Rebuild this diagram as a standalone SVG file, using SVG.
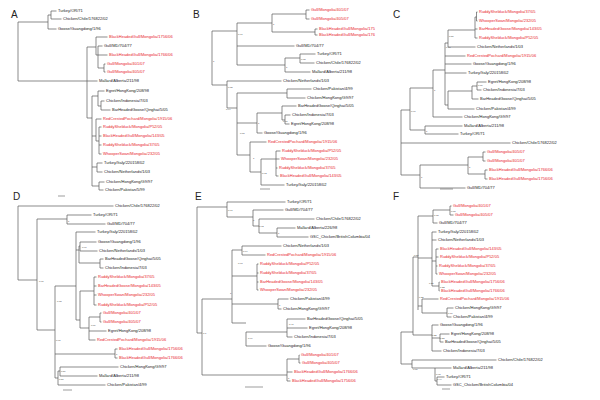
<svg xmlns="http://www.w3.org/2000/svg" width="600" height="400" viewBox="0 0 600 400">
<style>
.br{fill:none;stroke:#5a5a5a;stroke-width:0.7}
.sb{fill:none;stroke:#5a5a5a;stroke-width:0.6}
text{font-family:"Liberation Sans",Arial,sans-serif}
.t{font-size:4px;fill:#222}
.r{font-size:4px;fill:#e8242b}
.bs{font-size:2.4px;fill:#444}
.pl{font-size:10px;fill:#222}
</style>
<rect width="600" height="400" fill="#fff"/>

<!-- Panel A -->
<g id="panelA">
<text class="pl" x="11" y="18">A</text>
<g id="A-connectors"><path class="br" d="M18 22V81M18 22H48M48 15V29M48 29H56.5M48 15H51M51 11V19M51 11H56.5M51 19H61.5
M18 81H87M87 47V118M87 47H96M87 81H97.5M96 37V55M96 37H107.5M96 55H98M98 46V68M98 46H102.5M98 55H107.5M98 68H104M104 64V72M104 64H105.5M104 72H105.5
M87 118H92M92 96V186M92 96H98M98 91V106M98 91H104.5M98 106H101M101 101V110M101 101H104.5M101 110H110.5
M92 136H96M96 119V141M96 119H101.5M96 141H99M99 127V154M99 127H101.5M99 136H101.5M99 145H101.5M99 154H101.5
M92 167H97M97 163V172M97 163H102.5M97 172H102.5M92 186H99M99 182V190M99 182H104.5M99 190H103.5"/>
<path class="sb" d="M58 196H65"/></g>
<g id="A-nodes">
<text class="t" x="58" y="12.4">Turkey/OR/71</text>
<text class="t" x="63" y="20.4">Chicken/Chile/176822/02</text>
<text class="t" x="58" y="30.4">Goose/Guangdong/1/96</text>
<text class="r" x="109" y="38.4">BlackHeadedGull/Mongolia/1756/06</text>
<text class="t" x="104" y="47.4">Gull/MD/704/77</text>
<text class="r" x="109" y="56.4">BlackHeadedGull/Mongolia/1766/06</text>
<text class="r" x="107" y="65.4">Gull/Mongolia/401/07</text>
<text class="r" x="107" y="73.4">Gull/Mongolia/405/07</text>
<text class="t" x="99" y="82.4">Mallard/Alberta/211/98</text>
<text class="t" x="106" y="92.4">Egret/HongKong/208/98</text>
<text class="t" x="106" y="102.4">Chicken/Indonesia/7/03</text>
<text class="t" x="112" y="111.4">BarHeadedGoose/Qinghai/5/05</text>
<text class="r" x="103" y="120.4">RedCrestedPochard/Mongolia/1915/06</text>
<text class="r" x="103" y="128.4">RuddyShelduck/Mongolia/P52/05</text>
<text class="r" x="103" y="137.4">BlackHeadedGull/Mongolia/143/05</text>
<text class="r" x="103" y="146.4">RuddyShelduck/Mongolia/37/05</text>
<text class="r" x="103" y="155.4">WhooperSwan/Mongolia/232/05</text>
<text class="t" x="104" y="164.4">Turkey/Italy/220158/02</text>
<text class="t" x="104" y="173.4">Chicken/Netherlands/1/03</text>
<text class="t" x="106" y="183.4">Chicken/HongKong/G9/97</text>
<text class="t" x="105" y="191.4">Chicken/Pakistan/5/99</text>
</g>
</g>

<!-- Panel B -->
<g id="panelB">
<text class="pl" x="193" y="18">B</text>
<g id="B-connectors"><path class="br" d="M212 31V85M212 31H237M237 23V65M237 23H272M237 46H294.5M237 65H285
M272 14V32M272 14H306M272 32H315M306 10V19M306 10H309.5M306 19H309.5M315 29V35M315 29H317.5M315 35H317.5
M285 58V72M285 58H300M285 72H310.5M300 54V63M300 54H315.5M300 63H314.5
M212 85H227M227 81V108M227 81H281.5M227 108H237M237 93V155M237 93H287M237 123H257M237 155H250
M287 89V98M287 89H311.5M287 98H305.5
M257 113V133M257 113H282M257 133H262.5M282 106V120M282 106H296.5M282 120H285M285 115V124M285 115H290.5M285 124H289.5
M250 142V172M250 142H266.5M250 172H261M261 159V185M261 159H276M261 185H284.5M276 151V176M276 151H280.5M276 159H279.5M276 168H277.5M276 176H278.5"/>
<path class="sb" d="M260 189H270"/></g>
<g id="B-nodes">
<text class="r" x="311" y="11.4">Gull/Mongolia/401/07</text>
<text class="r" x="311" y="20.4">Gull/Mongolia/405/07</text>
<text class="r" x="319" y="30.4">BlackHeadedGull/Mongolia/175</text>
<text class="r" x="319" y="36.4">BlackHeadedGull/Mongolia/176</text>
<text class="t" x="296" y="47.4">Gull/MD/704/77</text>
<text class="t" x="317" y="55.4">Turkey/OR/71</text>
<text class="t" x="316" y="64.4">Chicken/Chile/176822/02</text>
<text class="t" x="312" y="73.4">Mallard/Alberta/211/98</text>
<text class="t" x="283" y="82.4">Chicken/Netherlands/1/03</text>
<text class="t" x="313" y="90.4">Chicken/Pakistan/4/99</text>
<text class="t" x="307" y="99.4">Chicken/HongKong/G9/97</text>
<text class="t" x="298" y="107.4">BarHeadedGoose/Qinghai/5/05</text>
<text class="t" x="292" y="116.4">Chicken/Indonesia/7/03</text>
<text class="t" x="291" y="125.4">Egret/HongKong/208/98</text>
<text class="t" x="264" y="134.4">Goose/Guangdong/1/96</text>
<text class="r" x="268" y="143.4">RedCrestedPochard/Mongolia/1915/06</text>
<text class="r" x="282" y="152.4">RuddyShelduck/Mongolia/P52/05</text>
<text class="r" x="281" y="160.4">WhooperSwan/Mongolia/232/05</text>
<text class="r" x="279" y="169.4">RuddyShelduck/Mongolia/37/05</text>
<text class="r" x="280" y="177.4">BlackHeadedGull/Mongolia/143/05</text>
<text class="t" x="286" y="186.4">Turkey/Italy/220158/02</text>
</g>
<g id="B-support">
<text class="bs" x="238" y="35">0.97</text><text class="bs" x="213" y="62">1</text><text class="bs" x="273" y="25">1</text>
<text class="bs" x="301" y="60">0.75</text><text class="bs" x="286" y="68">1</text><text class="bs" x="228" y="88">0.85</text>
<text class="bs" x="226" y="110">0.94</text><text class="bs" x="240" y="134">0.88</text><text class="bs" x="258" y="124">1</text>
<text class="bs" x="283" y="122">0.61</text><text class="bs" x="253" y="159">1</text><text class="bs" x="262" y="174">0.93</text>
</g>
</g>

<!-- Panel C -->
<g id="panelC">
<text class="pl" x="393" y="18">C</text>
<g id="C-connectors"><path class="br" d="M401 110V175M401 110H410M401 143H510.5M401 175H420M410 88V130M410 88H433M410 130H425
M425 126V134M425 126H462.5M425 134H458.5M433 70V117M433 70H445M433 117H462.5
M445 43V105M445 43H448M445 56H465.5M445 64H471.5M445 73H466.5M445 105H448
M448 30V47M448 30H475M448 47H475.5M475 17V38M475 17H476.5M476.5 12V21M476.5 12H477.5M476.5 21H477.5M475 29H477.5M475 38H477.5
M448 91V109M448 91H472M448 109H474.5M472 86V99M472 86H477M472 99H478.5M477 82V90M477 82H486.5M477 90H481.5
M420 165V188M420 165H468M420 188H465.5M468 157V174M468 157H483M468 174H485M483 152V161M483 152H485.5M483 161H485.5M485 170V179M485 170H487.5M485 179H487.5"/>
<path class="sb" d="M440 189H453"/></g>
<g id="C-nodes">
<text class="r" x="479" y="13.4">RuddyShelduck/Mongolia/37/05</text>
<text class="r" x="479" y="22.4">WhooperSwan/Mongolia/232/05</text>
<text class="r" x="479" y="30.4">BarHeadedGoose/Mongolia/143/05</text>
<text class="r" x="479" y="39.4">RuddyShelduck/Mongolia/P52/05</text>
<text class="t" x="477" y="48.4">Chicken/Netherlands/1/03</text>
<text class="r" x="467" y="57.4">RedCrestedPochard/Mongolia/1915/06</text>
<text class="t" x="473" y="65.4">Goose/Guangdong/1/96</text>
<text class="t" x="468" y="74.4">Turkey/Italy/220158/02</text>
<text class="t" x="488" y="83.4">Egret/HongKong/208/98</text>
<text class="t" x="483" y="91.4">Chicken/Indonesia/7/03</text>
<text class="t" x="480" y="100.4">BarHeadedGoose/Qinghai/5/05</text>
<text class="t" x="476" y="110.4">Chicken/Pakistan/4/99</text>
<text class="t" x="464" y="118.4">Chicken/HongKong/G9/97</text>
<text class="t" x="464" y="127.4">Mallard/Alberta/211/98</text>
<text class="t" x="460" y="135.4">Turkey/OR/71</text>
<text class="t" x="512" y="144.4">Chicken/Chile/176822/02</text>
<text class="r" x="487" y="153.4">Gull/Mongolia/405/07</text>
<text class="r" x="487" y="162.4">Gull/Mongolia/401/07</text>
<text class="r" x="489" y="171.4">BlackHeadedGull/Mongolia/1766/06</text>
<text class="r" x="489" y="180.4">BlackHeadedGull/Mongolia/1756/06</text>
<text class="t" x="467" y="189.4">Gull/MD/704/77</text>
</g>
<g id="C-support">
<text class="bs" x="434" y="91">1</text><text class="bs" x="411" y="112">0.96</text><text class="bs" x="426" y="132">1</text>
<text class="bs" x="421" y="178">1</text><text class="bs" x="469" y="168">1</text><text class="bs" x="449" y="37">0.51</text>
<text class="bs" x="446" y="48">0.98</text><text class="bs" x="478" y="86">0.86</text>
</g>
</g>

<!-- Panel D -->
<g id="panelD">
<text class="pl" x="13" y="200">D</text>
<g id="D-connectors"><path class="br" d="M18 206V280M18 206H113.5M18 280H37M37 219V330M37 219H67M37 330H55M67 215V224M67 215H91.5M67 224H105.5
M55 286V378M55 286H76M55 354H115M55 378H58M76 232V320M76 232H95.5M76 250H79M76 320H80
M79 246V263M79 246H80M80 242V251M80 242H96.5M80 251H97.5M79 263H100M100 259V268M100 259H103.5M100 268H103.5
M80 291V328M80 291H94M80 328H89M94 277V305M94 277H96.5M94 286H96.5M94 295H96.5M94 305H96.5
M89 317V340M89 317H100M89 331H106.5M89 340H95.5M100 313V322M100 313H101.5M100 322H101.5
M115 349V358M115 349H117.5M115 358H117.5M58 371V385M58 371H60M60 367V376M60 367H118.5M60 376H97.5M58 385H105.5"/>
<path class="sb" d="M63 390H72"/></g>
<g id="D-nodes">
<text class="t" x="115" y="207.4">Chicken/Chile/176822/02</text>
<text class="t" x="93" y="216.4">Turkey/OR/71</text>
<text class="t" x="107" y="225.4">Gull/MD/704/77</text>
<text class="t" x="97" y="233.4">Turkey/Italy/220158/02</text>
<text class="t" x="98" y="243.4">Goose/Guangdong/1/96</text>
<text class="t" x="99" y="252.4">Chicken/Netherlands/1/03</text>
<text class="t" x="105" y="260.4">BarHeadedGoose/Qinghai/5/05</text>
<text class="t" x="105" y="269.4">Chicken/Indonesia/7/03</text>
<text class="r" x="98" y="278.4">RuddyShelduck/Mongolia/37/05</text>
<text class="r" x="98" y="287.4">BarHeadedGoose/Mongolia/143/05</text>
<text class="r" x="98" y="296.4">WhooperSwan/Mongolia/232/05</text>
<text class="r" x="98" y="306.4">RuddyShelduck/Mongolia/P52/05</text>
<text class="r" x="103" y="314.4">Gull/Mongolia/401/07</text>
<text class="r" x="103" y="323.4">Gull/Mongolia/405/07</text>
<text class="t" x="108" y="332.4">Egret/HongKong/208/98</text>
<text class="r" x="97" y="341.4">RedCrestedPochard/Mongolia/1915/06</text>
<text class="r" x="119" y="350.4">BlackHeadedGull/Mongolia/1756/06</text>
<text class="r" x="119" y="359.4">BlackHeadedGull/Mongolia/1766/06</text>
<text class="t" x="120" y="368.4">Chicken/HongKong/G9/97</text>
<text class="t" x="99" y="377.4">Mallard/Alberta/211/98</text>
<text class="t" x="107" y="386.4">Chicken/Pakistan/4/99</text>
</g>
<g id="D-support">
<text class="bs" x="68" y="222">1</text><text class="bs" x="39" y="282">0.61</text><text class="bs" x="82" y="248">0.96</text>
<text class="bs" x="57" y="302">0.75</text><text class="bs" x="91" y="326">0.89</text><text class="bs" x="56" y="341">0.61</text>
<text class="bs" x="116" y="355">1</text><text class="bs" x="61" y="372">0.59</text><text class="bs" x="59" y="380">0.57</text>
</g>
</g>

<!-- Panel E -->
<g id="panelE">
<text class="pl" x="195" y="200">E</text>
<g id="E-connectors"><path class="br" d="M197 207V333M197 207H227M197 333H202M227 202V217M227 202H285.5M227 217H253M253 210V226M253 210H283.5M253 226H259
M259 219V233M259 219H314.5M259 233H277M277 228V237M277 228H295.5M277 237H308.5
M202 299V375M202 299H232M202 375H287M232 250V323M232 250H242M232 276H257M232 304H278M232 323H246
M242 246V255M242 246H281.5M242 255H265.5M257 264V290M257 264H258.5M257 273H258.5M257 282H258.5M257 290H258.5
M278 299V309M278 299H288.5M278 309H281.5M246 332V346M246 332H287M246 346H266.5M287 319V337M287 319H305.5M287 328H307.5M287 337H292.5
M287 359V381M287 359H299M287 372H292.5M287 381H290.5M299 355V363M299 355H299.5M299 363H300.5"/>
<path class="sb" d="M245 387H263"/></g>
<g id="E-nodes">
<text class="t" x="287" y="203.4">Turkey/OR/71</text>
<text class="t" x="285" y="211.4">Gull/MD/704/77</text>
<text class="t" x="316" y="220.4">Chicken/Chile/176822/02</text>
<text class="t" x="297" y="229.4">Mallard/Alberta/226/98</text>
<text class="t" x="310" y="238.4">GSC_Chicken/BritishColumbia/04</text>
<text class="t" x="283" y="247.4">Chicken/Netherlands/1/03</text>
<text class="r" x="267" y="256.4">RedCrestedPochard/Mongolia/1915/06</text>
<text class="r" x="260" y="265.4">RuddyShelduck/Mongolia/P52/05</text>
<text class="r" x="260" y="274.4">RuddyShelduck/Mongolia/37/05</text>
<text class="r" x="260" y="283.4">BarHeadedGoose/Mongolia/143/05</text>
<text class="r" x="260" y="291.4">WhooperSwan/Mongolia/232/05</text>
<text class="t" x="290" y="300.4">Chicken/Pakistan/4/99</text>
<text class="t" x="283" y="310.4">Chicken/HongKong/G9/97</text>
<text class="t" x="307" y="320.4">BarHeadedGoose/Qinghai/5/05</text>
<text class="t" x="309" y="329.4">Egret/HongKong/208/98</text>
<text class="t" x="294" y="338.4">Chicken/Indonesia/7/03</text>
<text class="t" x="268" y="347.4">Goose/Guangdong/1/96</text>
<text class="r" x="301" y="356.4">Gull/Mongolia/401/07</text>
<text class="r" x="302" y="364.4">Gull/Mongolia/405/07</text>
<text class="r" x="294" y="373.4">BlackHeadedGull/Mongolia/1766/06</text>
<text class="r" x="292" y="382.4">BlackHeadedGull/Mongolia/1756/06</text>
</g>
<g id="E-support">
<text class="bs" x="228" y="211">0.97</text><text class="bs" x="253" y="221">1</text><text class="bs" x="259" y="227">0.92</text>
<text class="bs" x="278" y="234">1</text><text class="bs" x="243" y="252">0.64</text><text class="bs" x="238" y="264">0.98</text>
<text class="bs" x="279" y="306">1</text><text class="bs" x="289" y="325">0.47</text><text class="bs" x="248" y="339">0.99</text>
<text class="bs" x="288" y="379">1</text><text class="bs" x="203" y="334">0.7</text><text class="bs" x="230" y="294">1</text>
</g>
</g>

<!-- Panel F -->
<g id="panelF">
<text class="pl" x="393" y="200">F</text>
<g id="F-connectors"><path class="br" d="M401 332V364M401 332H413M401 364H412M412 360V368M412 360H496.5M412 368H435M435 368V381M435 368H451.5M435 381H437M437 377V385M437 377H444.5M437 385H451.5
M413 257V335M413 257H418M413 335H432M418 216V310M418 216H433M418 258H432M418 306H422
M433 210V223M433 210H450M433 223H437.5M450 206V215M450 206H451.5M450 215H453.5
M432 232V286M432 232H436.5M432 240H436.5M432 261H436M432 286H439M436 249V274M436 249H438.5M436 257H438.5M436 266H437.5M436 274H437.5
M439 282V291M439 282H439.5M439 291H439.5M422 299V313M422 299H438.5M422 313H447M447 308V317M447 308H453.5M447 317H451.5
M432 325V351M432 325H438.5M432 338H440M432 351H441.5M440 334V342M440 334H449.5M440 342H443.5"/>
<path class="sb" d="M442 389H450"/></g>
<g id="F-nodes">
<text class="r" x="453" y="207.4">Gull/Mongolia/401/07</text>
<text class="r" x="455" y="216.4">Gull/Mongolia/405/07</text>
<text class="t" x="439" y="224.4">Gull/MD/704/77</text>
<text class="t" x="438" y="233.4">Turkey/Italy/220158/02</text>
<text class="t" x="438" y="241.4">Chicken/Netherlands/1/03</text>
<text class="r" x="440" y="250.4">BlackHeadedGull/Mongolia/143/05</text>
<text class="r" x="440" y="258.4">RuddyShelduck/Mongolia/P52/05</text>
<text class="r" x="439" y="267.4">RuddyShelduck/Mongolia/37/05</text>
<text class="r" x="439" y="275.4">WhooperSwan/Mongolia/232/05</text>
<text class="r" x="441" y="283.4">BlackHeadedGull/Mongolia/1756/06</text>
<text class="r" x="441" y="292.4">BlackHeadedGull/Mongolia/1766/06</text>
<text class="r" x="440" y="300.4">RedCrestedPochard/Mongolia/1915/06</text>
<text class="t" x="455" y="309.4">Chicken/HongKong/G9/97</text>
<text class="t" x="453" y="318.4">Chicken/Pakistan/4/99</text>
<text class="t" x="440" y="326.4">Goose/Guangdong/1/96</text>
<text class="t" x="451" y="335.4">Egret/HongKong/208/98</text>
<text class="t" x="445" y="343.4">BarHeadedGoose/Qinghai/5/05</text>
<text class="t" x="443" y="352.4">Chicken/Indonesia/7/03</text>
<text class="t" x="498" y="361.4">Chicken/Chile/176822/02</text>
<text class="t" x="453" y="369.4">Mallard/Alberta/211/98</text>
<text class="t" x="446" y="378.4">Turkey/OR/71</text>
<text class="t" x="453" y="386.4">GSC_Chicken/BritishColumbia/04</text>
</g>
<g id="F-support">
<text class="bs" x="451" y="212">0.88</text><text class="bs" x="434" y="216">0.75</text><text class="bs" x="414" y="256">0.51</text>
<text class="bs" x="429" y="284">0.26</text><text class="bs" x="440" y="288">0.22</text><text class="bs" x="419" y="298">0.25</text>
<text class="bs" x="448" y="314">0.76</text><text class="bs" x="432" y="336">0.25</text><text class="bs" x="440" y="339">0.28</text>
<text class="bs" x="413" y="370">0.80</text><text class="bs" x="436" y="375">0.95</text><text class="bs" x="437" y="380">0.44</text>
</g>
</g>
</svg>
